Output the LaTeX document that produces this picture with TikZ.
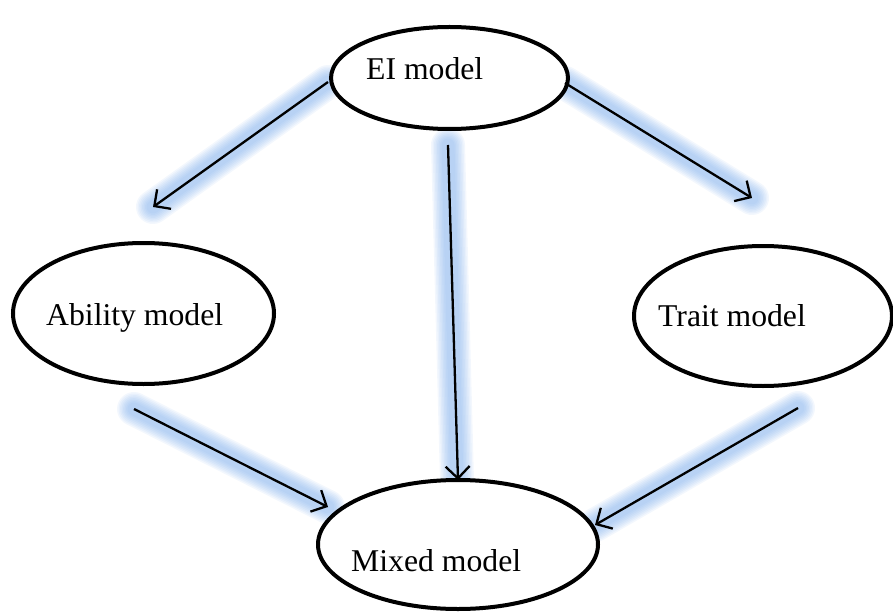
\documentclass[tikz,border=0pt]{standalone}
\usepackage{fontspec}
\setmainfont{Liberation Serif}
\usetikzlibrary{arrows.meta,shapes.geometric}
\definecolor{glowblue}{RGB}{120,170,235}
\tikzset{
  model/.style={draw=black, line width=4pt, ellipse, fill=white, inner sep=0pt, outer sep=0pt},
  lbl/.style={anchor=base west, inner sep=0pt, font=\fontsize{31.7}{38}\selectfont},
  arr/.style={draw=black, line width=2.3pt, -{Straight Barb[length=12pt,width=24pt,line width=2.3pt]}},
  glow/.style={line cap=round, draw=glowblue, draw opacity=#1},
}
\newcommand{\glowline}[2]{%
  \foreach \w in {34,31,28,25,22,19,16,13}{%
    \draw[glow=0.09, line width=\w pt] (#1) -- (#2);}
}
\begin{document}
\begin{tikzpicture}[x=1pt,y=-1pt]
\useasboundingbox (0,0) rectangle (893,612);
% coordinates
\coordinate (s1) at (328,82);
\coordinate (t1) at (153,207);
\coordinate (s2) at (565,83);
\coordinate (t2) at (752,198);
\coordinate (s3) at (448,145);
\coordinate (t3) at (457,481);
\coordinate (s4) at (134,409);
\coordinate (t4) at (328,507);
\coordinate (s5) at (798,408);
\coordinate (t5) at (595,525);
% glows
\glowline{s1}{t1}
\glowline{s2}{t2}
\glowline{s3}{t3}
\glowline{s4}{t4}
\glowline{s5}{t5}
% ellipses
\node[model, minimum width=237pt, minimum height=102pt] (ei) at (449.5,78) {};
\node[model, minimum width=261pt, minimum height=141pt] (ab) at (143.5,313.5) {};
\node[model, minimum width=258pt, minimum height=140pt] (tr) at (763,316) {};
\node[model, minimum width=280pt, minimum height=129pt] (mx) at (458,544.5) {};
% labels
\node[lbl] (eit) at (366,80) {EI model};
\node[lbl] (abt) at (46,325) {Ability model};
\node[lbl] (trt) at (658,326) {Trait model};
\node[lbl] (mxt) at (351,571) {Mixed model};
% arrows
\draw[arr] (s1) -- (t1);
\draw[arr] (s2) -- (t2);
\draw[arr] (s3) -- (mx.north);
\draw[arr] (s4) -- (t4);
\draw[arr] (s5) -- (t5);
\end{tikzpicture}
\end{document}
